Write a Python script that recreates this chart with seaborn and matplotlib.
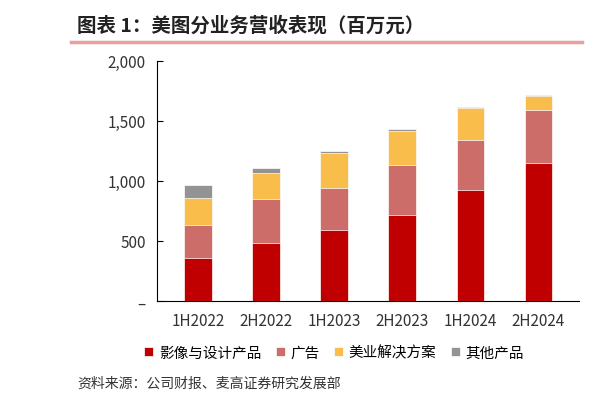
import matplotlib
matplotlib.use("Agg")
import matplotlib.pyplot as plt
import seaborn as sns
import numpy as np
import pandas as pd

plt.rcParams["font.family"] = "Noto Sans CJK SC"

periods = ["1H2022", "2H2022", "1H2023", "2H2023", "1H2024", "2H2024"]
design = [358, 485, 593, 717, 924, 1147]
ads = [276, 361, 350, 413, 413, 441]
solutions = [221, 224, 289, 282, 273, 116]
others = [110, 38, 20, 19, 8, 11]
series_names = ["影像与设计产品", "广告", "美业解决方案", "其他产品"]
colors = ["#C00000", "#CD6D6A", "#F8BD4B", "#939393"]
yticks = [0, 500, 1000, 1500, 2000]
yticklabels = ["–", "500", "1,000", "1,500", "2,000"]

fig = plt.figure(figsize=(6.16, 4.02), dpi=100)
ax = fig.add_axes([0.255, 0.249, 0.685, 0.597])

bottom = np.zeros(len(periods))
for name, vals, c in zip(series_names, [design, ads, solutions, others], colors):
    df = pd.DataFrame({"p": periods, "v": np.array(vals) + bottom})
    sns.barplot(data=df, x="p", y="v", color=c, ax=ax, width=0.4, saturation=1,
                label=name, edgecolor="white", linewidth=0.5)
    bottom += np.array(vals)
for i, cont in enumerate(ax.containers):
    for b in cont:
        b.set_zorder(10 - i)

ax.set_ylim(0, 2000)
ax.set_yticks(yticks)
ax.set_yticklabels(yticklabels, fontsize=11, color="#333333")
ax.tick_params(axis="x", labelsize=11, colors="#333333", length=0, pad=8)
ax.tick_params(axis="y", length=4, direction="in", pad=8)
ax.set_xlabel("")
ax.set_ylabel("")
for s in ["top", "right"]:
    ax.spines[s].set_visible(False)
ax.set_xlim(-0.6, 5.6)
ax.legend(loc="upper center", bbox_to_anchor=(0.42, -0.13), ncol=4, frameon=False,
          fontsize=10.5, handlelength=0.6, handleheight=0.6, columnspacing=1.0, handletextpad=0.4)

fig.text(0.125, 0.935, "图表 1：美图分业务营收表现（百万元）", fontsize=14, fontweight="bold", color="#222222", va="center")
fig.add_artist(plt.Line2D([0.115, 0.945], [0.893, 0.893], color="#E8A0A0", lw=2.5))
fig.text(0.125, 0.045, "资料来源：公司财报、麦高证券研究发展部", fontsize=10, color="#333333", va="center")

fig.savefig("out.png", dpi=100)
